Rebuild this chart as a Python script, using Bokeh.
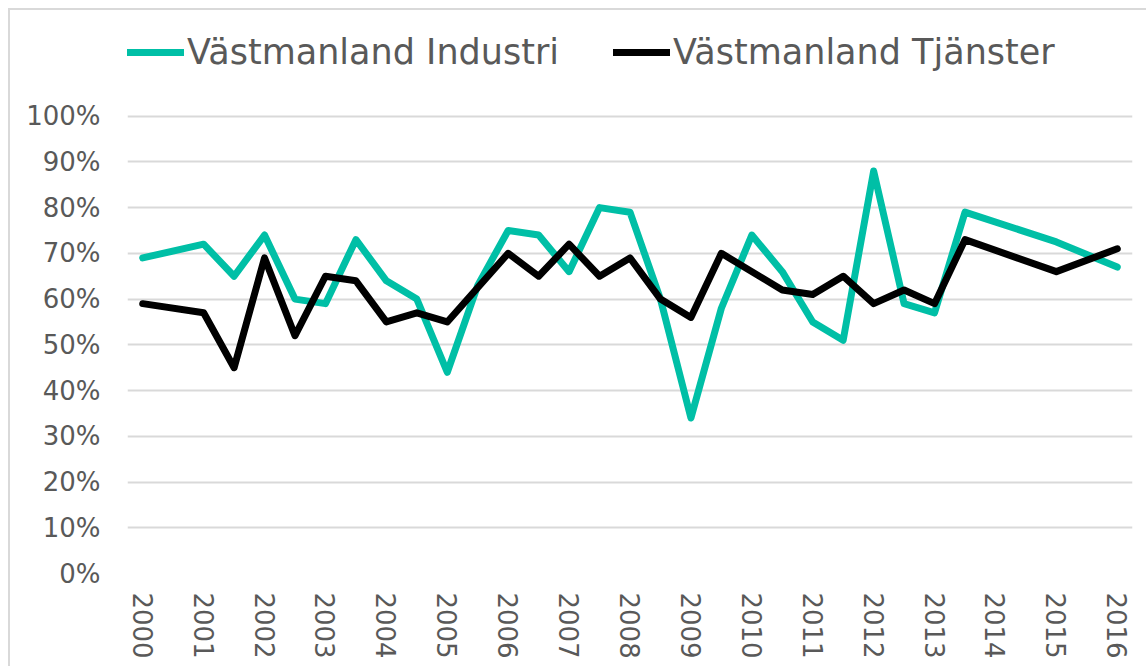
from bokeh.plotting import figure
from bokeh.models import (Range1d, FixedTicker, PrintfTickFormatter, Legend, LegendItem)
from bokeh.embed import file_html
from bokeh.resources import INLINE

# ---- data ----
tick_years = list(range(2000, 2017))

industri_x = [2000, 2001, 2001.5, 2002, 2002.5, 2003, 2003.5, 2004, 2004.5, 2005,
              2005.5, 2006, 2006.5, 2007, 2007.5, 2008, 2008.5, 2009, 2009.5, 2010,
              2010.5, 2011, 2011.5, 2012, 2012.5, 2013, 2013.5, 2015, 2016]
industri_y = [69, 72, 65, 74, 60, 59, 73, 64, 60, 44,
              63, 75, 74, 66, 80, 79, 60, 34, 58, 74,
              66, 55, 51, 88, 59, 57, 79, 72.5, 67]

tjanster_x = [2000, 2001, 2001.5, 2002, 2002.5, 2003, 2003.5, 2004, 2004.5, 2005,
              2006, 2006.5, 2007, 2007.5, 2008, 2008.5, 2009, 2009.5, 2010.5,
              2011, 2011.5, 2012, 2012.5, 2013, 2013.5, 2015, 2016]
tjanster_y = [59, 57, 45, 69, 52, 65, 64, 55, 57, 55,
              70, 65, 72, 65, 69, 60, 56, 70, 62,
              61, 65, 59, 62, 59, 73, 66, 71]

series_names = ["Västmanland Industri", "Västmanland Tjänster"]
series_colors = ["#00BFA6", "#000000"]

TEXT = "#595959"
FONT = "DejaVu Sans"

# the frame reaches the top of the canvas so that the legend can sit inside it;
# the 100% gridline stays where the reference has it
p = figure(width=1138, height=658, output_backend="svg", toolbar_location=None,
           x_range=Range1d(1999.75, 2016.25), y_range=Range1d(0, 123.1),
           min_border_left=117, min_border_right=16, min_border_top=0,
           min_border_bottom=95)
p.styles = {"border-left": "2px solid #d9d9d9", "border-top": "2px solid #d9d9d9",
            "margin-left": "8px", "margin-top": "8px"}
p.outline_line_color = None
p.background_fill_color = "white"
p.border_fill_color = "white"

r1 = p.line(industri_x, industri_y, line_color=series_colors[0], line_width=7,
            line_join="round", line_cap="round")
r2 = p.line(tjanster_x, tjanster_y, line_color=series_colors[1], line_width=7,
            line_join="round", line_cap="round")

# axes
p.xaxis.ticker = FixedTicker(ticks=tick_years)
p.xaxis.major_label_orientation = "vertical"
p.yaxis.ticker = FixedTicker(ticks=list(range(0, 101, 10)))
p.yaxis.formatter = PrintfTickFormatter(format="%d%%")
for ax in (p.xaxis, p.yaxis):
    ax.axis_line_color = None
    ax.major_tick_line_color = None
    ax.minor_tick_line_color = None
    ax.major_tick_out = 0
    ax.major_tick_in = 0
    ax.major_label_text_font = FONT
    ax.major_label_text_font_size = "26px"
    ax.major_label_text_color = TEXT
p.xaxis.major_label_standoff = 19
p.yaxis.major_label_standoff = 27

p.xgrid.grid_line_color = None
p.ygrid.grid_line_color = "#d9d9d9"
p.ygrid.grid_line_width = 2

legend = Legend(items=[LegendItem(label=series_names[0], renderers=[r1]),
                       LegendItem(label=series_names[1], renderers=[r2])],
                orientation="horizontal", location=(0, 501),
                padding=0, margin=0, spacing=54,
                glyph_width=57, glyph_height=34, label_height=34,
                label_standoff=3,
                label_text_font=FONT, label_text_font_size="35px",
                label_text_color=TEXT,
                background_fill_alpha=0, border_line_color=None)
p.add_layout(legend, "center")

open("out.html", "w").write(file_html(p, INLINE))
